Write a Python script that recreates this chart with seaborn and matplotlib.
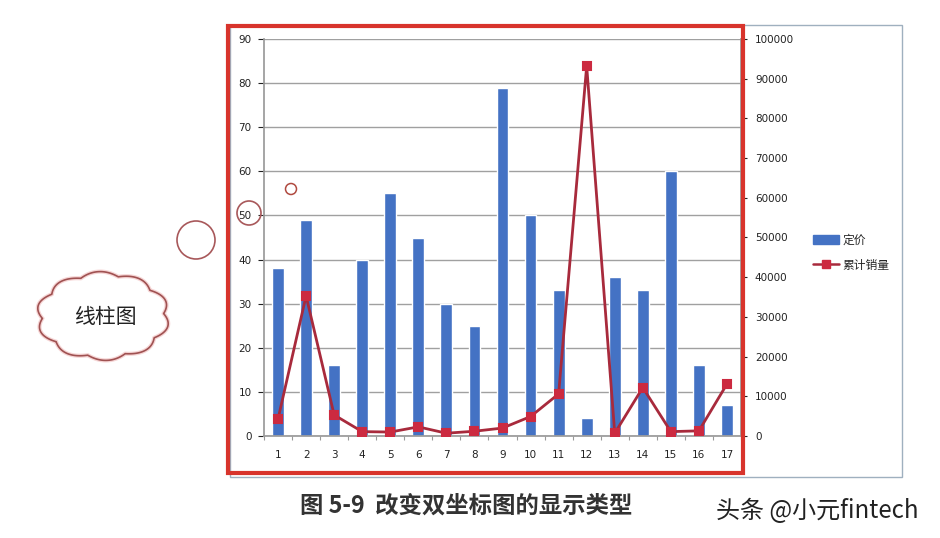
import numpy as np
import pandas as pd
import matplotlib
matplotlib.use("Agg")
import matplotlib.pyplot as plt
from matplotlib.patches import Rectangle, Circle, Polygon
from matplotlib.lines import Line2D
import seaborn as sns

# ---- data ----
categories = [str(i) for i in range(1, 18)]
price = [38, 49, 16, 40, 55, 45, 30, 25, 79, 50, 33, 4, 36, 33, 60, 16, 7]          # 定价
cum_sales = [4300, 35300, 5300, 1100, 1000, 2300, 700, 1200, 2000, 4900,
             10600, 93200, 700, 12200, 1100, 1300, 13100]                          # 累计销量
left_ticks = [0, 10, 20, 30, 40, 50, 60, 70, 80, 90]
right_ticks = [0, 10000, 20000, 30000, 40000, 50000, 60000, 70000, 80000, 90000, 100000]
legend_labels = ["定价", "累计销量"]
caption = "图 5-9  改变双坐标图的显示类型"
watermark = "头条 @小元fintech"
cloud_text = "线柱图"

df = pd.DataFrame({"cat": categories, "price": price, "sales": cum_sales})

sns.set_theme(style="white")
plt.rcParams["font.family"] = ["DejaVu Sans", "Noto Sans CJK SC"]
CJK = ["Noto Sans CJK SC", "DejaVu Sans"]

W, H = 940, 538
fig = plt.figure(figsize=(W / 100, H / 100), dpi=100)
fig.patch.set_facecolor("white")

def fx(x):
    return x / W

def fy(y):
    return 1 - y / H

left, right, top, bottom = 264, 741, 39, 436
ax = fig.add_axes([fx(left), fy(bottom), fx(right - left), (bottom - top) / H])

bar_color = "#4472c4"
line_color = "#a82a3c"
marker_color = "#cc2a40"

sns.barplot(data=df, x="cat", y="price", ax=ax, color=bar_color, width=0.42,
            saturation=1, label=legend_labels[0], zorder=2)
ax.set_ylim(0, 90)
ax.set_xlim(-0.5, len(categories) - 0.5)
ax.set_yticks(left_ticks)
ax.set_yticklabels([str(t) for t in left_ticks])
ax.yaxis.grid(True, color="#a0a0a0", linewidth=1.0, zorder=0)
ax.xaxis.grid(False)
ax.set_axisbelow(True)
ax.set_xlabel("")
ax.set_ylabel("")
for s in ["top", "right"]:
    ax.spines[s].set_visible(False)
ax.spines["left"].set_color("#9a9a9a")
ax.spines["bottom"].set_color("#9a9a9a")
ax.tick_params(axis="y", labelsize=7.5, colors="#222222", length=4, width=0.8,
               direction="out", left=True, pad=5)
ax.tick_params(axis="x", labelsize=7.5, colors="#222222", length=0, pad=10)
ax.set_xticks(np.arange(-0.5, len(categories), 1.0), minor=True)
ax.tick_params(axis="x", which="minor", length=3, width=0.8, color="#9a9a9a", bottom=True)

ax2 = ax.twinx()
sns.pointplot(data=df, x="cat", y="sales", ax=ax2, color=line_color, markers="s",
              markersize=6, linewidth=2.0, label=legend_labels[1])
for ln in ax2.lines:
    ln.set_markerfacecolor(marker_color)
    ln.set_markeredgecolor(marker_color)
ax2.set_ylim(0, 100000)
ax2.set_xlim(-0.5, len(categories) - 0.5)
ax2.set_yticks(right_ticks)
ax2.set_yticklabels([str(t) for t in right_ticks])
ax2.set_ylabel("")
ax2.set_xlabel("")
ax2.grid(False)
for s in ["top", "left", "bottom"]:
    ax2.spines[s].set_visible(False)
ax2.spines["right"].set_color("#9a9a9a")
ax2.tick_params(axis="y", labelsize=7.5, colors="#222222", length=4, width=0.8,
                direction="out", right=True, pad=6)
if ax2.get_legend():
    ax2.get_legend().remove()
if ax.get_legend():
    ax.get_legend().remove()

# legend
h1 = Rectangle((0, 0), 1, 1, color=bar_color)
h2 = Line2D([0], [0], color=line_color, marker="s", markersize=6,
            markerfacecolor=marker_color, markeredgecolor=marker_color, linewidth=1.8)
fig.legend([h1, h2], legend_labels, loc="upper left",
           bbox_to_anchor=(fx(808), fy(229)), frameon=False,
           prop={"family": CJK, "size": 8.5}, handlelength=2.2, labelspacing=1.0,
           handletextpad=0.3, borderaxespad=0)

# overlay for decorations
ov = fig.add_axes([0, 0, 1, 1], zorder=10)
ov.set_xlim(0, W)
ov.set_ylim(H, 0)
ov.axis("off")
ov.patch.set_alpha(0)

# outer chart border
ov.add_patch(Rectangle((230, 25), 902 - 230, 477 - 25, fill=False,
                       edgecolor="#9fb0bf", linewidth=1.0))
# red frame
ov.add_patch(Rectangle((228, 26), 743 - 228, 473 - 26, fill=False,
                       edgecolor="#d8342c", linewidth=3.0))

# circles
ov.add_patch(Circle((196, 240), 19, fill=False, edgecolor="#a8585a", linewidth=1.2))
ov.add_patch(Circle((249, 213), 12, fill=False, edgecolor="#a8585a", linewidth=1.2))
ov.add_patch(Circle((291, 189), 5.5, fill=False, edgecolor="#b04a40", linewidth=1.1))

# cloud
th = np.linspace(0, 2 * np.pi, 800)
r = 0.92 + 0.09 * np.abs(np.sin(5 * th + 0.3))
cx, cy, rx, ry = 103, 316, 66, 44
pts = np.column_stack([cx + rx * r * np.cos(th), cy + ry * r * np.sin(th)])
ov.add_patch(Polygon(pts, closed=True, fill=False, edgecolor="#f6d6d6", linewidth=3))
ov.add_patch(Polygon(pts, closed=True, fill=False, edgecolor="#a05252", linewidth=1.2))
ov.text(cx + 2, cy + 1, cloud_text, ha="center", va="center", fontsize=15,
        family=CJK, color="#222222")

# caption and watermark
ov.text(300, 506, caption, ha="left", va="center", fontsize=16.8,
        family=CJK, fontweight="bold", color="#333333")
ov.text(716, 511, watermark, ha="left", va="center", fontsize=17.3,
        family=CJK, color="#222222")

fig.savefig("out.png", dpi=100)
